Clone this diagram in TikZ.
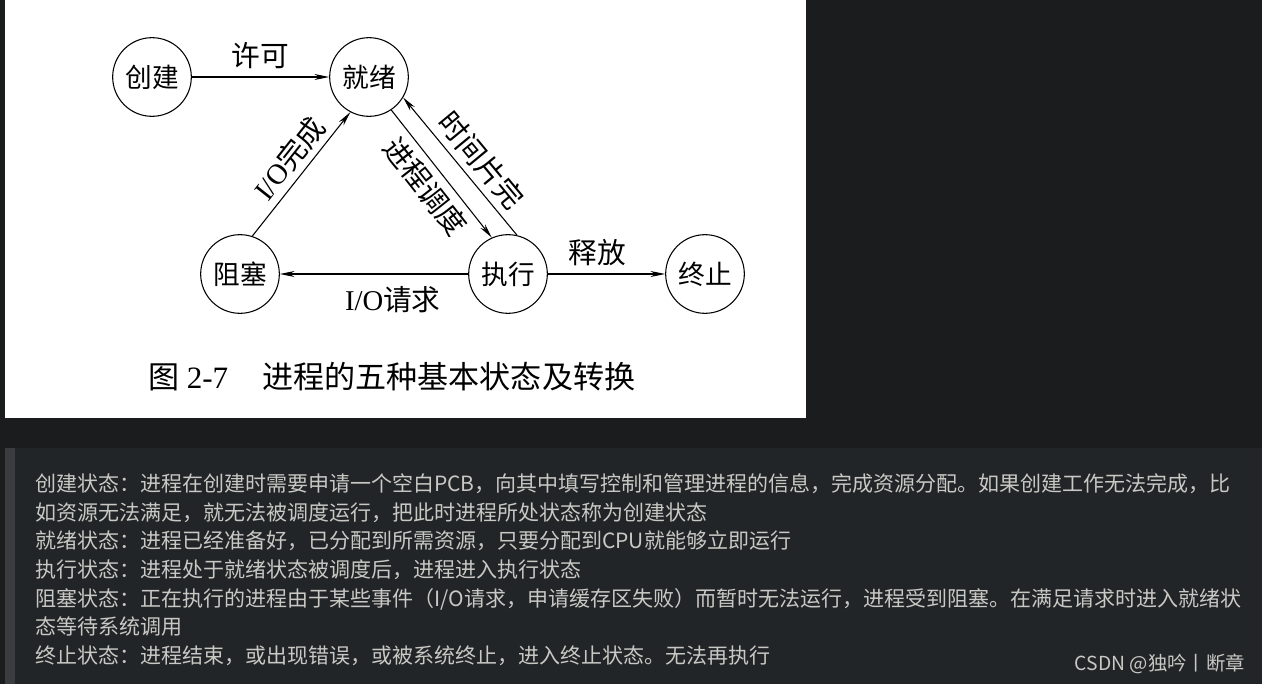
\documentclass[tikz,border=0pt]{standalone}
\usepackage{fontspec}
\usepackage{xcolor}
\setmainfont{Liberation Serif}
\newfontfamily\cjk{Noto Sans CJK SC}
\usetikzlibrary{arrows.meta}

\definecolor{pagebg}{RGB}{27,28,30}
\definecolor{notebg}{RGB}{34,37,39}
\definecolor{notebar}{RGB}{58,61,64}
\definecolor{notetext}{RGB}{200,200,196}

\begin{document}
\begin{tikzpicture}[x=0.75pt, y=-0.75pt,
  state/.style={draw, circle, minimum size=59pt, inner sep=0pt, line width=0.8pt, font=\cjk\fontsize{20}{24}\selectfont},
  flow/.style={-{Stealth[length=11pt,width=4.5pt]}, line width=0.8pt},
  flowback/.style={{Stealth[length=11pt,width=4.5pt]}-, line width=0.8pt},
  tag/.style={font=\cjk\fontsize{21.5}{26}\selectfont, inner sep=2pt},
  note/.style={anchor=west, text=notetext, inner sep=0pt, font=\cjk\fontsize{15.75}{18}\selectfont}]

% backdrop
\fill[pagebg] (0,0) rectangle (1262,684);
\fill[white] (5,0) rectangle (806,418);
\fill[notebg] (5,448) rectangle (1262,684);
\fill[notebar] (5,448) rectangle (15,684);

% states
\node[state] (create) at (152,77) {创建};
\node[state] (ready) at (369,77) {就绪};
\node[state] (block) at (240,274) {阻塞};
\node[state] (run) at (508,274) {执行};
\node[state] (stop) at (705,274) {终止};

% transitions
\draw[flow] (create) -- node[tag, above=4pt] (permit) {许可} (ready);
\draw[flow] (block.72) -- node[tag, sloped, above=2pt, pos=0.53] (iodone) {{\rmfamily I/O}完成} (ready.-118);
\draw[flow] (ready.-56) -- node[tag, sloped, below=3pt] (dispatch) {进程调度} (run.114);
\draw[flowback] (ready.-31) -- node[tag, sloped, above=3pt, pos=0.55] (timeout) {时间片完} (run.77);
\draw[flow] (run) -- node[tag, below=7pt, pos=0.4] (iowait) {{\rmfamily I/O}请求} (block);
\draw[flow] (run) -- node[tag, above=4pt, pos=0.42] (release) {释放} (stop);

% caption
\node[font=\cjk\fontsize{23.3}{28}\selectfont] (caption) at (392,377) {图 {\rmfamily 2-7}\hspace{1.1em}进程的五种基本状态及转换};

% notes
\node[note] (n1) at (35,484) {创建状态：进程在创建时需要申请一个空白PCB，向其中填写控制和管理进程的信息，完成资源分配。如果创建工作无法完成，比};
\node[note] (n2) at (35,513) {如资源无法满足，就无法被调度运行，把此时进程所处状态称为创建状态};
\node[note] (n3) at (35,541) {就绪状态：进程已经准备好，已分配到所需资源，只要分配到CPU就能够立即运行};
\node[note] (n4) at (35,570) {执行状态：进程处于就绪状态被调度后，进程进入执行状态};
\node[note] (n5) at (35,599) {阻塞状态：正在执行的进程由于某些事件（I/O请求，申请缓存区失败）而暂时无法运行，进程受到阻塞。在满足请求时进入就绪状};
\node[note] (n6) at (35,627) {态等待系统调用};
\node[note] (n7) at (35,656) {终止状态：进程结束，或出现错误，或被系统终止，进入终止状态。无法再执行};

\node[anchor=east, inner sep=0pt, text=notetext, font=\cjk\fontsize{14.5}{17}\selectfont] (mark) at (1245,664) {CSDN @独吟丨断章};
\end{tikzpicture}
\end{document}
